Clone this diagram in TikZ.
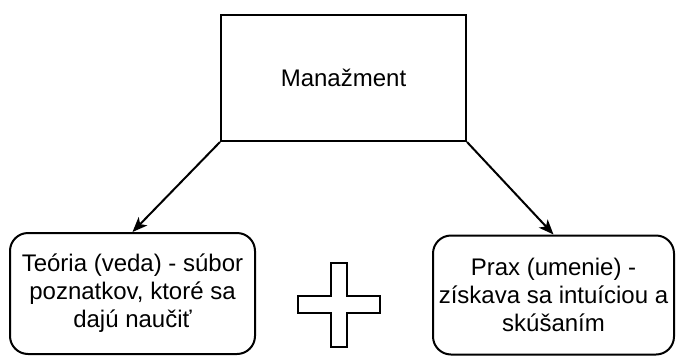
\documentclass[tikz,border=0pt]{standalone}
\usepackage{fontspec}
\setmainfont{Liberation Sans}
\usetikzlibrary{arrows.meta}
\begin{document}
\begin{tikzpicture}[x=1pt,y=-1pt,
  every node/.style={font=\fontsize{24}{28}\selectfont, align=center, inner sep=0pt},
  plainbox/.style={draw, line width=2pt, minimum width=245pt, minimum height=126pt},
  softbox/.style={draw, line width=2pt, rounded corners=18pt},
  link/.style={line width=2pt, -{Stealth[length=15pt,width=12pt,inset=4pt]}},
  plusmark/.style={draw, line width=2pt, line join=miter}]
  \useasboundingbox (0,0) rectangle (676,356);

  % main concept
  \node[plainbox] (mgmt) at (343.5,78) {Manažment};

  % its two components
  \node[softbox, minimum width=245pt, minimum height=121pt] (theory) at (132.5,293.5)
    {Teória (veda) - súbor\\poznatkov, ktoré sa\\dajú naučiť};
  \node[softbox, minimum width=241pt, minimum height=119pt] (practice) at (553.5,295)
    {Prax (umenie) -\\získava sa intuíciou a\\skúšaním};

  % connectors
  \draw[link] (mgmt.south west) -- (theory.north);
  \draw[link] (mgmt.south east) -- (practice.north);

  % plus sign between the components
  \draw[plusmark] (331,263) -- (347,263) -- (347,296) -- (380,296) -- (380,313)
    -- (347,313) -- (347,347) -- (331,347) -- (331,313) -- (298,313)
    -- (298,296) -- (331,296) -- cycle;
\end{tikzpicture}
\end{document}
